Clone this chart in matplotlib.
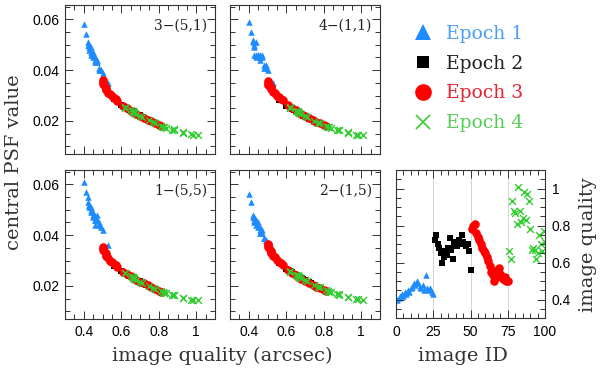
import numpy as np
import matplotlib
matplotlib.use('Agg')
import matplotlib.pyplot as plt
from matplotlib.lines import Line2D
from matplotlib.ticker import MultipleLocator

# epochs
epoch_labels = ['Epoch 1', 'Epoch 2', 'Epoch 3', 'Epoch 4']
epoch_colors = ['#1e8cff', 'black', 'red', '#33cc33']

# image ID and image quality (arcsec) per epoch
id_e1 = np.arange(1, 26)
id_e2 = np.arange(26, 51)
id_e3 = np.arange(51, 76)
id_e4 = np.arange(76, 101)
q_e1 = [0.40, 0.41, 0.42, 0.43, 0.42, 0.44, 0.43, 0.45, 0.44, 0.46, 0.47, 0.49, 0.48,
        0.50, 0.49, 0.47, 0.46, 0.48, 0.45, 0.53, 0.46, 0.45, 0.46, 0.44, 0.43]
q_e2 = [0.72, 0.75, 0.70, 0.68, 0.65, 0.60, 0.63, 0.66, 0.64, 0.68, 0.73, 0.67, 0.62,
        0.70, 0.71, 0.69, 0.72, 0.70, 0.75, 0.71, 0.70, 0.69, 0.70, 0.66, 0.56]
q_e3 = [0.78, 0.80, 0.81, 0.76, 0.74, 0.72, 0.70, 0.68, 0.66, 0.65, 0.63, 0.61, 0.58,
        0.55, 0.53, 0.50, 0.52, 0.56, 0.57, 0.54, 0.52, 0.51, 0.52, 0.50, 0.50]
q_e4 = [0.66, 0.62, 0.93, 0.88, 0.87, 0.81, 1.01, 0.88, 0.82, 0.84, 0.98, 0.83, 0.97,
        0.93, 0.78, 0.67, 0.68, 0.67, 0.62, 0.65, 0.75, 0.70, 0.66, 0.77, 0.71]

# central PSF value per panel and epoch
panel_names = ['3\u2212(5,1)', '4\u2212(1,1)', '1\u2212(5,5)', '2\u2212(1,5)']

psf_a_e1 = [0.058, 0.054, 0.051, 0.049, 0.050, 0.047, 0.048, 0.045, 0.046, 0.044, 0.043, 0.040, 0.041,
            0.039, 0.040, 0.044, 0.045, 0.040, 0.047, 0.035, 0.043, 0.046, 0.045, 0.049, 0.050]
psf_a_e2 = [0.0212, 0.0200, 0.0220, 0.0228, 0.0240, 0.0262, 0.0250, 0.0236, 0.0245, 0.0226, 0.0208, 0.0232, 0.0254,
            0.0218, 0.0215, 0.0222, 0.0210, 0.0222, 0.0198, 0.0214, 0.0221, 0.0225, 0.0217, 0.0238, 0.0285]
psf_a_e3 = [0.0192, 0.0186, 0.0180, 0.0198, 0.0205, 0.0212, 0.0220, 0.0228, 0.0236, 0.0240, 0.0250, 0.0258, 0.0280,
            0.0298, 0.0310, 0.0355, 0.0325, 0.0290, 0.0285, 0.0305, 0.0330, 0.0340, 0.0320, 0.0360, 0.0345]
psf_a_e4 = [0.0238, 0.0252, 0.0156, 0.0165, 0.0166, 0.0182, 0.0145, 0.0167, 0.0178, 0.0174, 0.0146, 0.0176, 0.0147,
            0.0154, 0.0192, 0.0232, 0.0228, 0.0235, 0.0255, 0.0242, 0.0202, 0.0220, 0.0240, 0.0195, 0.0216]

psf_b_e1 = [0.059, 0.055, 0.052, 0.050, 0.051, 0.046, 0.049, 0.046, 0.051, 0.045, 0.045, 0.042, 0.041,
            0.040, 0.041, 0.046, 0.044, 0.042, 0.046, 0.035, 0.045, 0.046, 0.046, 0.045, 0.046]
psf_b_e2 = [0.0210, 0.0198, 0.0218, 0.0226, 0.0238, 0.0260, 0.0248, 0.0234, 0.0243, 0.0224, 0.0206, 0.0230, 0.0252,
            0.0216, 0.0213, 0.0220, 0.0208, 0.0220, 0.0196, 0.0212, 0.0219, 0.0223, 0.0215, 0.0236, 0.0282]
psf_b_e3 = [0.0190, 0.0184, 0.0182, 0.0196, 0.0203, 0.0210, 0.0218, 0.0226, 0.0234, 0.0242, 0.0252, 0.0262, 0.0282,
            0.0300, 0.0315, 0.0350, 0.0330, 0.0295, 0.0288, 0.0310, 0.0335, 0.0345, 0.0325, 0.0358, 0.0340]
psf_b_e4 = [0.0236, 0.0250, 0.0155, 0.0164, 0.0166, 0.0180, 0.0144, 0.0165, 0.0177, 0.0172, 0.0145, 0.0175, 0.0146,
            0.0153, 0.0190, 0.0230, 0.0226, 0.0233, 0.0253, 0.0240, 0.0200, 0.0218, 0.0238, 0.0193, 0.0214]

psf_c_e1 = [0.061, 0.057, 0.055, 0.052, 0.053, 0.049, 0.051, 0.047, 0.050, 0.046, 0.046, 0.043, 0.045,
            0.042, 0.043, 0.048, 0.047, 0.044, 0.048, 0.036, 0.046, 0.049, 0.044, 0.051, 0.052]
psf_c_e2 = [0.0208, 0.0197, 0.0216, 0.0224, 0.0236, 0.0258, 0.0246, 0.0232, 0.0241, 0.0222, 0.0204, 0.0228, 0.0250,
            0.0214, 0.0211, 0.0218, 0.0206, 0.0218, 0.0195, 0.0210, 0.0217, 0.0221, 0.0213, 0.0234, 0.0280]
psf_c_e3 = [0.0188, 0.0182, 0.0178, 0.0195, 0.0202, 0.0210, 0.0216, 0.0225, 0.0232, 0.0240, 0.0248, 0.0256, 0.0276,
            0.0295, 0.0308, 0.0350, 0.0322, 0.0288, 0.0282, 0.0300, 0.0328, 0.0338, 0.0318, 0.0355, 0.0342]
psf_c_e4 = [0.0235, 0.0249, 0.0154, 0.0163, 0.0165, 0.0179, 0.0144, 0.0164, 0.0176, 0.0171, 0.0145, 0.0174, 0.0146,
            0.0152, 0.0189, 0.0229, 0.0225, 0.0232, 0.0252, 0.0239, 0.0199, 0.0217, 0.0237, 0.0192, 0.0213]

psf_d_e1 = [0.056, 0.053, 0.048, 0.046, 0.047, 0.044, 0.045, 0.043, 0.046, 0.041, 0.041, 0.038, 0.039,
            0.037, 0.038, 0.042, 0.042, 0.039, 0.044, 0.034, 0.041, 0.045, 0.043, 0.046, 0.047]
psf_d_e2 = [0.0214, 0.0202, 0.0222, 0.0230, 0.0242, 0.0266, 0.0253, 0.0238, 0.0248, 0.0228, 0.0210, 0.0234, 0.0257,
            0.0220, 0.0217, 0.0224, 0.0212, 0.0224, 0.0200, 0.0216, 0.0223, 0.0227, 0.0219, 0.0240, 0.0290]
psf_d_e3 = [0.0190, 0.0185, 0.0180, 0.0197, 0.0205, 0.0212, 0.0220, 0.0228, 0.0236, 0.0243, 0.0252, 0.0262, 0.0284,
            0.0302, 0.0318, 0.0360, 0.0335, 0.0296, 0.0290, 0.0312, 0.0338, 0.0348, 0.0328, 0.0365, 0.0352]
psf_d_e4 = [0.0240, 0.0255, 0.0157, 0.0166, 0.0168, 0.0183, 0.0146, 0.0168, 0.0179, 0.0175, 0.0147, 0.0177, 0.0148,
            0.0155, 0.0194, 0.0234, 0.0230, 0.0237, 0.0258, 0.0244, 0.0204, 0.0222, 0.0242, 0.0197, 0.0218]

plt.rcParams['font.family'] = ['Liberation Sans', 'DejaVu Sans']
SERIF = 'DejaVu Serif'

markers = ['^', 's', 'o', 'x']
sizes = [22, 14, 38, 24]
# legend text is a touch lighter than the markers
label_colors = ['#4a9ff5', '#222222', '#e8222e', '#55cc55']

fig = plt.figure(figsize=(6.0, 3.73), dpi=100)

W, H = 600.0, 373.0
def box(x0, y0, x1, y1):
    return [x0 / W, 1 - y1 / H, (x1 - x0) / W, (y1 - y0) / H]

ax_a = fig.add_axes(box(65, 5, 215, 154))
ax_b = fig.add_axes(box(230, 5, 380, 154))
ax_c = fig.add_axes(box(65, 170, 215, 319))
ax_d = fig.add_axes(box(230, 170, 380, 319))
ax_id = fig.add_axes(box(396, 170, 545, 318))

def style(ax):
    ax.tick_params(which='both', direction='in', top=True, right=True,
                   labelsize=10, pad=4, width=0.7, color='#333333')
    ax.tick_params(which='major', length=6)
    ax.tick_params(which='minor', length=3.5)
    for s in ax.spines.values():
        s.set_linewidth(0.8)
        s.set_color('#333333')

q_all = [q_e1, q_e2, q_e3, q_e4]
panels = [
    (ax_a, [psf_a_e1, psf_a_e2, psf_a_e3, psf_a_e4]),
    (ax_b, [psf_b_e1, psf_b_e2, psf_b_e3, psf_b_e4]),
    (ax_c, [psf_c_e1, psf_c_e2, psf_c_e3, psf_c_e4]),
    (ax_d, [psf_d_e1, psf_d_e2, psf_d_e3, psf_d_e4]),
]

for k, (ax, psfs) in enumerate(panels):
    for i in range(4):
        if markers[i] == 'x':
            ax.scatter(q_all[i], psfs[i], marker='x', s=sizes[i], c=epoch_colors[i], linewidths=1.0)
        else:
            ax.scatter(q_all[i], psfs[i], marker=markers[i], s=sizes[i], c=epoch_colors[i], linewidths=0)
    ax.set_xlim(0.3, 1.1)
    ax.set_ylim(0.007, 0.0656)
    ax.xaxis.set_minor_locator(MultipleLocator(0.05))
    ax.yaxis.set_minor_locator(MultipleLocator(0.005))
    ax.set_xticks([0.4, 0.6, 0.8, 1.0])
    ax.set_xticklabels(['0.4', '0.6', '0.8', '1'])
    ax.set_yticks([0.02, 0.04, 0.06])
    ax.set_yticklabels(['0.02', '0.04', '0.06'])
    style(ax)
    ax.text(0.947, 0.86, panel_names[k], transform=ax.transAxes, ha='right', va='center',
            fontsize=10, family=SERIF, color='#222222')

for ax in (ax_a, ax_b):
    ax.tick_params(labelbottom=False)
for ax in (ax_b, ax_d):
    ax.tick_params(labelleft=False)

# image quality vs image ID
ids = [id_e1, id_e2, id_e3, id_e4]
for xv in (25, 50, 75):
    ax_id.axvline(xv, color='#d4d4d4', lw=0.7, zorder=0)
for i in range(4):
    if markers[i] == 'x':
        ax_id.scatter(ids[i], q_all[i], marker='x', s=sizes[i], c=epoch_colors[i], linewidths=1.0)
    else:
        ax_id.scatter(ids[i], q_all[i], marker=markers[i], s=sizes[i], c=epoch_colors[i], linewidths=0)
ax_id.set_xlim(0, 100)
ax_id.set_ylim(0.3, 1.1)
ax_id.xaxis.set_major_locator(MultipleLocator(25))
ax_id.xaxis.set_minor_locator(MultipleLocator(5))
ax_id.set_yticks([0.4, 0.6, 0.8, 1.0])
ax_id.set_yticklabels(['0.4', '0.6', '0.8', '1'])
ax_id.yaxis.set_minor_locator(MultipleLocator(0.05))
style(ax_id)
ax_id.tick_params(labelleft=False, labelright=True, pad=5)

# axis labels
fig.text(14 / W, 1 - 162 / H, 'central PSF value', rotation=90, ha='center', va='center',
         fontsize=14, family=SERIF, color='#333333')
fig.text(222.5 / W, 1 - 356 / H, 'image quality (arcsec)', ha='center', va='center',
         fontsize=14, family=SERIF, color='#333333')
fig.text(463 / W, 1 - 356 / H, 'image ID', ha='center', va='center',
         fontsize=14, family=SERIF, color='#333333')
fig.text(588 / W, 1 - 245 / H, 'image quality', rotation=90, ha='center', va='center',
         fontsize=14, family=SERIF, color='#333333')

# legend
handles = [
    Line2D([], [], ls='none', marker='^', ms=11, color=epoch_colors[0], mew=0),
    Line2D([], [], ls='none', marker='s', ms=8, color=epoch_colors[1], mew=0),
    Line2D([], [], ls='none', marker='o', ms=12, color=epoch_colors[2], mew=0),
    Line2D([], [], ls='none', marker='x', ms=10, color=epoch_colors[3], mew=1.2),
]
leg = fig.legend(handles, epoch_labels, loc='upper left', bbox_to_anchor=(395 / W, 1 - 8 / H),
                 frameon=False, handlelength=1.2, handletextpad=0.6, labelspacing=0.63,
                 prop={'family': SERIF, 'size': 13.5}, labelcolor=label_colors)

plt.savefig('out.png', dpi=100)
